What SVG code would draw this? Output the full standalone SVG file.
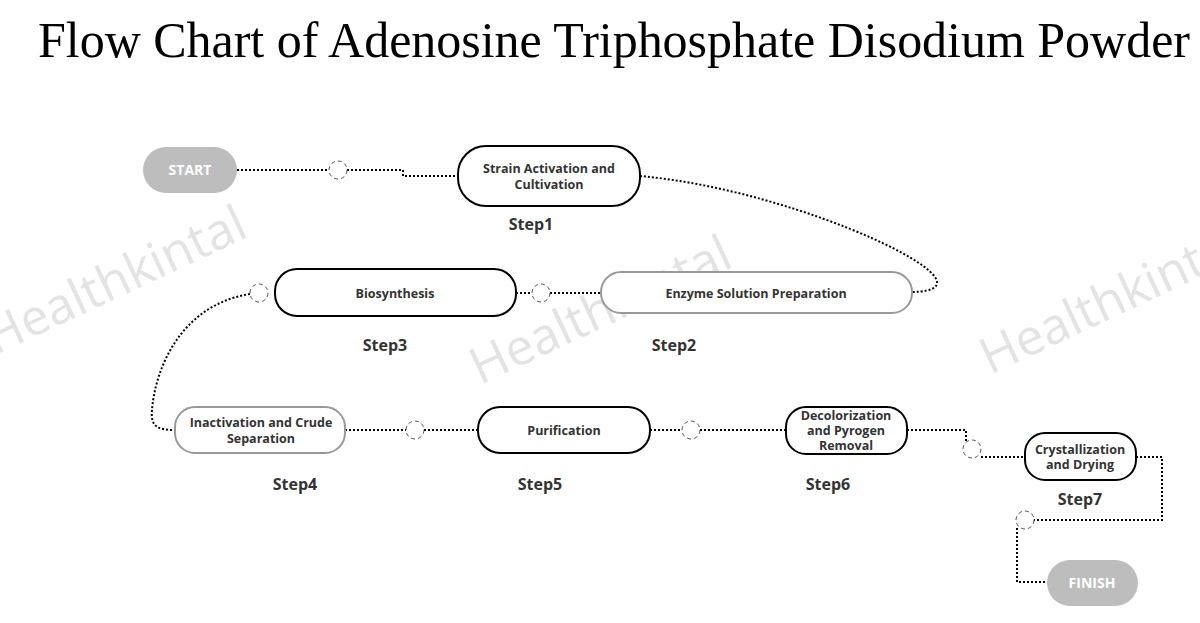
<svg xmlns="http://www.w3.org/2000/svg" width="1200" height="623" viewBox="0 0 1200 623">
<style>
.n{fill:#fff;stroke:#000;stroke-width:2}
.g{fill:#fff;stroke:#999;stroke-width:2}
.t{font-family:"Open Sans","DejaVu Sans",sans-serif;font-weight:bold;font-size:12.5px;fill:#333;text-anchor:middle}
.s{font-family:"Open Sans","DejaVu Sans",sans-serif;font-weight:bold;font-size:16px;fill:#333;text-anchor:middle}
.e{fill:#bdbdbd}
.et{font-family:"Open Sans","DejaVu Sans",sans-serif;font-weight:bold;font-size:14px;fill:#fff;text-anchor:middle}
.c{fill:none;stroke:#000;stroke-width:2;stroke-dasharray:2 2}
.o{fill:#fff;stroke:#555;stroke-width:1;stroke-dasharray:4 3}
.w{font-family:"Open Sans","DejaVu Sans",sans-serif;font-size:50px;fill:#e3e3e3}
</style>
<rect width="1200" height="623" fill="#fff"/>
<g id="watermarks">
<text class="w" transform="translate(-5,355) rotate(-25)">Healthkintal</text>
<text class="w" transform="translate(480,385) rotate(-25)">Healthkintal</text>
<text class="w" transform="translate(990,375) rotate(-25)">Healthkintal</text>
</g>
<text x="614" y="57" text-anchor="middle" font-family="Liberation Serif,serif" font-size="50" textLength="1152" fill="#000">Flow Chart of Adenosine Triphosphate Disodium Powder</text>
<g id="connectors">
<path class="c" d="M237,170H329M347,170H403V176H458"/>
<path class="c" d="M640,176C800,190 1010,290 912,292"/>
<path class="c" d="M516,293H532M550,293H601"/>
<path class="c" d="M250,294C180,305 155,370 152,410C150,428 160,430 175,430"/>
<path class="c" d="M345,430H406M424,430H478M650,430H682M700,430H786"/>
<path class="c" d="M907,430H966V441M981,457H1025"/>
<path class="c" d="M1136,457H1162V520H1033M1017,528V582H1047"/>
<circle class="o" cx="338" cy="170" r="9"/>
<circle class="o" cx="541" cy="293" r="9"/>
<circle class="o" cx="259" cy="293" r="9"/>
<circle class="o" cx="415" cy="430" r="9"/>
<circle class="o" cx="691" cy="430" r="9"/>
<circle class="o" cx="972" cy="449" r="9"/>
<circle class="o" cx="1025" cy="520" r="9"/>
</g>
<g id="start"><rect class="e" x="143" y="147" width="94" height="46" rx="23"/><text class="et" x="190" y="175">START</text></g>
<g id="step1"><rect class="n" x="458" y="146" width="182" height="60" rx="28"/><text class="t" x="549" y="173">Strain Activation and</text><text class="t" x="549" y="189">Cultivation</text><text class="s" x="531" y="230">Step1</text></g>
<g id="step2"><rect class="g" x="601" y="272" width="311" height="41" rx="20"/><text class="t" x="756" y="298">Enzyme Solution Preparation</text><text class="s" x="674" y="351">Step2</text></g>
<g id="step3"><rect class="n" x="275" y="269" width="241" height="47" rx="22"/><text class="t" x="395" y="298">Biosynthesis</text><text class="s" x="385" y="351">Step3</text></g>
<g id="step4"><rect class="g" x="175" y="407" width="170" height="46" rx="20"/><text class="t" x="261" y="427">Inactivation and Crude</text><text class="t" x="261" y="443">Separation</text><text class="s" x="295" y="490">Step4</text></g>
<g id="step5"><rect class="n" x="478" y="407" width="172" height="46" rx="22"/><text class="t" x="564" y="435">Purification</text><text class="s" x="540" y="490">Step5</text></g>
<g id="step6"><rect class="n" x="786" y="407" width="121" height="47" rx="20"/><text class="t" x="846" y="420">Decolorization</text><text class="t" x="846" y="435">and Pyrogen</text><text class="t" x="846" y="450">Removal</text><text class="s" x="828" y="490">Step6</text></g>
<g id="step7"><rect class="n" x="1025" y="433" width="111" height="47" rx="20"/><text class="t" x="1080" y="454">Crystallization</text><text class="t" x="1080" y="469">and Drying</text><text class="s" x="1080" y="505">Step7</text></g>
<g id="finish"><rect class="e" x="1047" y="560" width="91" height="46" rx="23"/><text class="et" x="1092" y="588">FINISH</text></g>
</svg>
